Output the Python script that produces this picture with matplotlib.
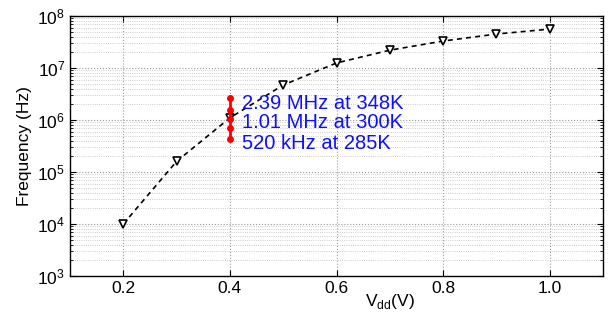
import matplotlib
matplotlib.use("Agg")
import matplotlib.pyplot as plt
from matplotlib.ticker import LogLocator, NullFormatter

plt.rcParams['font.family'] = ['Liberation Sans', 'DejaVu Sans']

# data
vdd = [0.2, 0.3, 0.4, 0.5, 0.6, 0.7, 0.8, 0.9, 1.0]
freq = [1.0e4, 1.6e5, 1.1e6, 4.7e6, 1.25e7, 2.2e7, 3.3e7, 4.5e7, 5.6e7]

temp_vdd = [0.4, 0.4, 0.4, 0.4, 0.4]
temp_freq = [2.65e6, 1.56e6, 1.05e6, 0.70e6, 0.43e6]
notes = ['2.39 MHz at 348K', '1.01 MHz at 300K', '520 kHz at 285K']
note_y = [2.05e6, 0.9e6, 0.36e6]

fig = plt.figure(figsize=(6.08, 3.2), dpi=100)
ax = fig.add_axes([70/608, 44/320, 533/608, 260/320])

ax.plot(vdd, freq, color='black', linestyle=(0, (3, 2.5)), linewidth=1.2,
        marker='v', markersize=6, markerfacecolor='white',
        markeredgecolor='black', markeredgewidth=1.2, zorder=3)
ax.plot(temp_vdd, temp_freq, color='red', linewidth=2,
        marker='o', markersize=4, zorder=4)

for txt, y in zip(notes, note_y):
    ax.text(0.423, y, txt, color='#0f0fff', fontsize=14.5,
            va='center', ha='left', zorder=5)

ax.set_yscale('log')
ax.set_xlim(0.1, 1.1)
ax.set_ylim(1e3, 1e8)
ax.set_xticks([0.2, 0.4, 0.6, 0.8, 1.0])
ax.set_xticklabels(['0.2', '0.4', '0.6', '0.8', '1.0'])
ax.yaxis.set_major_locator(LogLocator(base=10, numticks=10))
ax.yaxis.set_minor_locator(LogLocator(base=10, subs=range(2, 10), numticks=20))
ax.yaxis.set_minor_formatter(NullFormatter())

ax.grid(True, which='major', axis='both', color='#999999', linestyle=':', linewidth=0.8)
ax.grid(True, which='minor', axis='y', color='#bbbbbb', linestyle=':', linewidth=0.6)
ax.tick_params(which='both', direction='in', top=True, right=True, labelsize=12.5)
ax.tick_params(which='major', length=4)
ax.tick_params(which='minor', length=2)
for s in ax.spines.values():
    s.set_linewidth(1.0)

ax.set_xlabel(r'V$_{\mathregular{dd}}$(V)', fontsize=12.5)
ax.xaxis.set_label_coords(0.6, -0.06)
ax.set_ylabel('Frequency (Hz)', fontsize=12.5, labelpad=4)

fig.savefig('out.png', dpi=100)
